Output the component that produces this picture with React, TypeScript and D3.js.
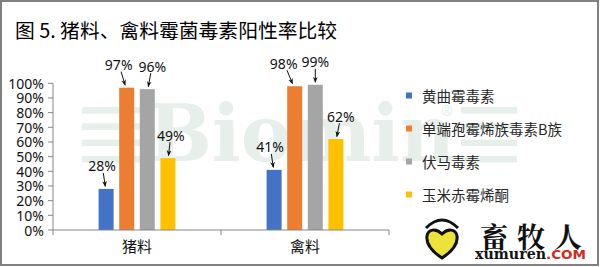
import React from "react";
import * as d3 from "d3";

const title = "图 5. 猪料、禽料霉菌毒素阳性率比较";
const categories = ["猪料", "禽料"];
const seriesNames = ["黄曲霉毒素", "单端孢霉烯族毒素B族", "伏马毒素", "玉米赤霉烯酮"];
const aflatoxin = [28, 41];
const trichothecenesB = [97, 98];
const fumonisin = [96, 99];
const zearalenone = [49, 62];
const seriesValues = [aflatoxin, trichothecenesB, fumonisin, zearalenone];
const yTicks = [0, 10, 20, 30, 40, 50, 60, 70, 80, 90, 100];

// layout / style (not data)
const colors = ["#4472C4", "#ED7D31", "#A5A5A5", "#FFC000"];
const labelDx = [
  [-4, -4],
  [-8, -11],
  [5, 0],
  [3, 5],
];

const W = 600;
const H = 267;
const plotLeft = 53;
const plotRight = 389;
const plotTop = 83.3;
const plotBottom = 230;

const CJK = "'Noto Sans CJK SC', 'Noto Sans', sans-serif";
const LAT = "'Noto Sans', 'Noto Sans CJK SC', sans-serif";

export default function App() {
  const x0 = d3.scaleBand<string>().domain(categories).range([plotLeft, plotRight]);
  const groupWidth = 76.8;
  const x1 = d3
    .scaleBand<string>()
    .domain(seriesNames)
    .range([-groupWidth / 2, groupWidth / 2])
    .paddingInner(0.272);
  const y = d3.scaleLinear().domain([0, 100]).range([plotBottom, plotTop]);

  const bars: any[] = [];
  const labels: any[] = [];
  seriesNames.forEach((s, si) => {
    categories.forEach((c, ci) => {
      const v = seriesValues[si][ci];
      const cx = (x0(c) as number) + x0.bandwidth() / 2;
      const bx = cx + (x1(s) as number);
      const bw = x1.bandwidth();
      const top = y(v);
      bars.push(
        <rect key={`b${si}-${ci}`} x={bx} y={top} width={bw} height={plotBottom - top} fill={colors[si]} />
      );
      const barCx = bx + bw / 2;
      const tx = barCx + labelDx[si][ci];
      const ty = top - 23;
      const sx = tx + (barCx - tx) * 0.3;
      const ex = barCx - (barCx - tx) * 0.2;
      labels.push(
        <g key={`l${si}-${ci}`}>
          <text x={tx} y={ty} textAnchor="middle" dominantBaseline="central" fontFamily={LAT} fontSize={14} fill="#111">
            {`${v}%`}
          </text>
          <line x1={sx} y1={ty + 7} x2={ex} y2={top - 2.5} stroke="#111" strokeWidth={1} markerEnd="url(#arr)" />
        </g>
      );
    });
  });

  const wm = "#e6efe9";

  return (
    <div style={{ position: "fixed", left: 0, top: 0, width: W, height: H, background: "#fff" }}>
      <svg width={W} height={H} style={{ display: "block" }}>
        <defs>
          <marker id="arr" viewBox="0 0 10 10" refX="9" refY="5" markerWidth="6" markerHeight="6" orient="auto">
            <path d="M0,1 L10,5 L0,9 L3,5 Z" fill="#111" />
          </marker>
        </defs>
        <rect x={0} y={0} width={W} height={H} fill="#fff" />
        <rect x={1} y={1} width={597} height={264} fill="none" stroke="#808080" strokeWidth={2} />

        {/* watermark */}
        <g fill={wm}>
          {[0, 1, 2, 3].map((i) => (
            <rect key={`wl${i}`} x={82} y={107 + i * 16.3} width={62} height={6.5} />
          ))}
          {[0, 1, 2, 3].map((i) => (
            <rect key={`wr${i}`} x={461} y={107 + i * 16.3} width={56} height={6.5} />
          ))}
          <text x={148} y={161} fontFamily="'DejaVu Serif', serif" fontWeight="bold" fontSize={78} textLength={307} lengthAdjust="spacingAndGlyphs">
            Biomin
          </text>
          <text x={447} y={110} textAnchor="middle" dominantBaseline="central" fontFamily={LAT} fontSize={14}>
            ®
          </text>
        </g>

        <text x={15} y={29} dominantBaseline="central" fontFamily={CJK} fontSize={19.8} fill="#000">
          {title}
        </text>

        {/* y axis */}
        <line x1={plotLeft} y1={plotTop} x2={plotLeft} y2={plotBottom} stroke="#868686" strokeWidth={1} />
        {yTicks.map((t) => (
          <g key={`yt${t}`}>
            <line x1={plotLeft - 5} x2={plotLeft} y1={y(t)} y2={y(t)} stroke="#868686" strokeWidth={1} />
            <text x={44} y={y(t)} textAnchor="end" dominantBaseline="central" fontFamily={LAT} fontSize={14} fill="#111">
              {`${t}%`}
            </text>
          </g>
        ))}

        {bars}

        {/* x axis */}
        <line x1={plotLeft} x2={plotRight} y1={plotBottom} y2={plotBottom} stroke="#868686" strokeWidth={1} />
        {[plotLeft, ...categories.map((c) => (x0(c) as number) + x0.bandwidth())].map((px, i) => (
          <line key={`xt${i}`} x1={px} x2={px} y1={plotBottom} y2={plotBottom + 5} stroke="#868686" strokeWidth={1} />
        ))}
        {categories.map((c) => (
          <text key={`xl${c}`} x={(x0(c) as number) + x0.bandwidth() / 2} y={245} textAnchor="middle" dominantBaseline="central" fontFamily={CJK} fontSize={15} fill="#111">
            {c}
          </text>
        ))}

        {labels}

        {/* legend */}
        {seriesNames.map((s, i) => (
          <g key={`lg${i}`}>
            <rect x={406} y={95.5 + i * 33 - 3} width={6} height={6} fill={colors[i]} />
            <text x={422} y={95.5 + i * 33} dominantBaseline="central" fontFamily={CJK} fontSize={14.5} fill="#262626">
              {s}
            </text>
          </g>
        ))}

        {/* xumuren logo watermark */}
        <g>
          <path d="M426,228 Q442,212 458,228" fill="none" stroke="#111" strokeWidth={3} />
          <path d="M442,258 C430,250 426,243 427,236 C428,229 436,228 442,234 C448,228 456,229 457,236 C458,243 454,250 442,258 Z" fill="#ece23a" stroke="#111" strokeWidth={3} />
          <text x={480} y={236} dominantBaseline="central" fontFamily="'Noto Serif CJK SC', 'Noto Sans CJK SC', serif" fontWeight="bold" fontSize={28} letterSpacing={9} fill="#111">
            畜牧人
          </text>
          <text x={475} y={259} fontFamily="'DejaVu Serif', serif" fontWeight="bold" fontSize={15} textLength={71} lengthAdjust="spacingAndGlyphs" fill="#111">
            xumuren
          </text>
          <text x={546} y={259} fontFamily="'DejaVu Sans', sans-serif" fontWeight="bold" fontSize={13} textLength={40} lengthAdjust="spacingAndGlyphs" fill="#d42a20">
            .COM
          </text>
        </g>
      </svg>
    </div>
  );
}
